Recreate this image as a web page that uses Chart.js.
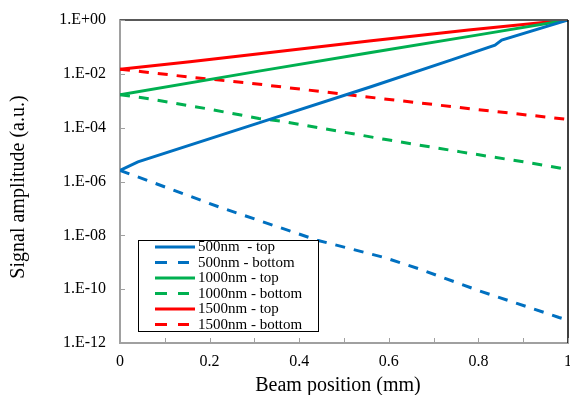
<!DOCTYPE html>
<html>
<head>
<meta charset="utf-8">
<script src="https://cdn.jsdelivr.net/npm/chart.js@4.4.1/dist/chart.umd.min.js"></script>
<style>
  body { margin: 0; background: #fff; }
  #chart { display: block; }
</style>
</head>
<body>
<canvas id="chart" width="570" height="395"></canvas>
<script>
// --- Dados ---
const xLabel = 'Beam position (mm)';
const yLabel = 'Signal amplitude (a.u.)';
const xTickValues = [0, 0.2, 0.4, 0.6, 0.8, 1];
const yTickValues = [1e-12, 1e-10, 1e-8, 1e-6, 1e-4, 1e-2, 1];

const seriesNames = ['500nm  - top', '500nm - bottom', '1000nm - top', '1000nm - bottom', '1500nm - top', '1500nm - bottom'];

const top500X = [0, 0.04, 0.31, 0.56, 0.74, 0.837, 0.852, 1];
const top500Y = [2.6e-6, 5.4e-6, 1.5e-4, 3.3e-3, 3.3e-2, 0.117, 0.18, 1];

const bottom500X = [0, 0.22, 0.44, 0.59, 0.67, 0.8, 0.98, 1];
const bottom500Y = [2.6e-6, 1.15e-7, 6.6e-9, 1.5e-9, 5.5e-10, 8.9e-11, 8.9e-12, 7.1e-12];

const top1000X = [0, 0.31, 0.56, 0.8, 1];
const top1000Y = [1.66e-3, 1.26e-2, 6.2e-2, 0.28, 1];

const bottom1000X = [0, 0.05, 0.19, 0.31, 0.36, 0.59, 0.76, 0.9, 1];
const bottom1000Y = [1.66e-3, 1.29e-3, 5.2e-4, 2.2e-4, 1.74e-4, 3.7e-5, 1.26e-5, 5.4e-6, 2.8e-6];

const top1500X = [0, 0.156, 0.311, 0.556, 0.778, 1];
const top1500Y = [1.48e-2, 2.8e-2, 5.6e-2, 0.166, 0.427, 1];

const bottom1500X = [0, 0.05, 0.16, 0.29, 0.5, 0.68, 0.83, 0.96, 1];
const bottom1500Y = [1.48e-2, 1.2e-2, 7.4e-3, 4.5e-3, 1.74e-3, 7.9e-4, 4.1e-4, 2.4e-4, 2.0e-4];

const BLUE = '#0070C0';
const GREEN = '#00B050';
const RED = '#FF0000';
const AXIS_GRAY = '#A0A0A0';
const FONT = '"Liberation Serif", "Times New Roman", serif';

function toPoints(xs, ys) {
    return xs.map((x, i) => ({ x: x, y: ys[i] }));
}

function makeDataset(label, xs, ys, color, dashed) {
    return {
        label: label,
        data: toPoints(xs, ys),
        borderColor: color,
        backgroundColor: color,
        borderWidth: 3,
        borderDash: dashed ? [10, 9] : [],
        pointRadius: 0,
        tension: 0,
        fill: false
    };
}

function formatExp(v) {
    const e = Math.round(Math.log10(v));
    return '1.E' + (e < 0 ? '-' : '+') + String(Math.abs(e)).padStart(2, '0');
}

// Moldura, marcas internas, títulos e legenda desenhados à mão
const decorPlugin = {
    id: 'decor',
    afterDraw(chart) {
        const { ctx, chartArea: a, scales } = chart;
        ctx.save();

        // bordas superior e direita
        ctx.lineWidth = 2;
        ctx.strokeStyle = '#595959';
        ctx.beginPath();
        ctx.moveTo(a.left, a.top);
        ctx.lineTo(a.right, a.top);
        ctx.stroke();
        ctx.strokeStyle = '#000';
        ctx.lineWidth = 1.5;
        ctx.beginPath();
        ctx.moveTo(a.right, a.top);
        ctx.lineTo(a.right, a.bottom);
        ctx.stroke();

        // marcas de escala para dentro
        ctx.strokeStyle = AXIS_GRAY;
        ctx.lineWidth = 1;
        scales.x.ticks.forEach(t => {
            const px = Math.round(scales.x.getPixelForValue(t.value)) + 0.5;
            ctx.beginPath();
            ctx.moveTo(px, a.bottom);
            ctx.lineTo(px, a.bottom - 5);
            ctx.stroke();
        });
        scales.y.ticks.forEach(t => {
            const py = Math.round(scales.y.getPixelForValue(t.value)) + 0.5;
            ctx.beginPath();
            ctx.moveTo(a.left, py);
            ctx.lineTo(a.left + 5, py);
            ctx.stroke();
        });

        // títulos dos eixos
        ctx.fillStyle = '#000';
        ctx.font = '20px ' + FONT;
        ctx.textAlign = 'center';
        ctx.textBaseline = 'alphabetic';
        ctx.fillText(xLabel, 338, 391);
        ctx.save();
        ctx.translate(24, 187);
        ctx.rotate(-Math.PI / 2);
        ctx.fillText(yLabel, 0, 0);
        ctx.restore();

        // legenda
        const box = { x: 138.5, y: 240.5, w: 180, h: 91 };
        ctx.fillStyle = '#fff';
        ctx.fillRect(box.x, box.y, box.w, box.h);
        ctx.strokeStyle = '#000';
        ctx.lineWidth = 1;
        ctx.strokeRect(box.x, box.y, box.w, box.h);
        ctx.font = '15px ' + FONT;
        ctx.textAlign = 'left';
        ctx.textBaseline = 'middle';
        chart.data.datasets.forEach((ds, i) => {
            const cy = 247 + i * 15.5;
            ctx.strokeStyle = ds.borderColor;
            ctx.lineWidth = 3;
            ctx.setLineDash(ds.borderDash.length ? [12, 11] : []);
            ctx.beginPath();
            ctx.moveTo(155, cy);
            ctx.lineTo(ds.borderDash.length ? 189 : 195, cy);
            ctx.stroke();
            ctx.setLineDash([]);
            ctx.fillStyle = '#000';
            ctx.fillText(ds.label, 198, cy + 0.5);
        });

        ctx.restore();
    }
};

new Chart(document.getElementById('chart'), {
    type: 'line',
    data: {
        datasets: [
            makeDataset(seriesNames[0], top500X, top500Y, BLUE, false),
            makeDataset(seriesNames[1], bottom500X, bottom500Y, BLUE, true),
            makeDataset(seriesNames[2], top1000X, top1000Y, GREEN, false),
            makeDataset(seriesNames[3], bottom1000X, bottom1000Y, GREEN, true),
            makeDataset(seriesNames[4], top1500X, top1500Y, RED, false),
            makeDataset(seriesNames[5], bottom1500X, bottom1500Y, RED, true)
        ]
    },
    options: {
        responsive: false,
        animation: false,
        layout: { autoPadding: false, padding: { top: 20, right: 2, left: 0, bottom: 0 } },
        plugins: {
            legend: { display: false },
            tooltip: { enabled: false }
        },
        scales: {
            x: {
                type: 'linear',
                min: 0,
                max: 1,
                afterFit(scale) {
                    scale.height = 52;
                    scale.paddingLeft = 0;
                    scale.paddingRight = 0;
                },
                afterBuildTicks(scale) {
                    const ticks = [];
                    for (let i = 0; i <= 10; i++) ticks.push({ value: i / 10 });
                    scale.ticks = ticks;
                },
                grid: { display: false, drawTicks: false },
                border: { display: true, color: AXIS_GRAY, width: 2 },
                ticks: {
                    padding: 9,
                    color: '#000',
                    font: { family: FONT, size: 16 },
                    maxRotation: 0,
                    autoSkip: false,
                    callback: (v) => {
                        const hit = xTickValues.find(t => Math.abs(t - v) < 1e-9);
                        return hit === undefined ? '' : String(hit);
                    }
                }
            },
            y: {
                type: 'logarithmic',
                min: 1e-12,
                max: 1,
                afterFit(scale) {
                    scale.width = 120;
                    scale.paddingTop = 0;
                    scale.paddingBottom = 0;
                },
                afterBuildTicks(scale) {
                    scale.ticks = yTickValues.map(v => ({ value: v }));
                },
                grid: { display: false, drawTicks: false },
                border: { display: true, color: AXIS_GRAY, width: 2 },
                ticks: {
                    padding: 14,
                    color: '#000',
                    font: { family: FONT, size: 16 },
                    autoSkip: false,
                    callback: (v) => formatExp(v)
                }
            }
        }
    },
    plugins: [decorPlugin]
});
</script>
</body>
</html>
